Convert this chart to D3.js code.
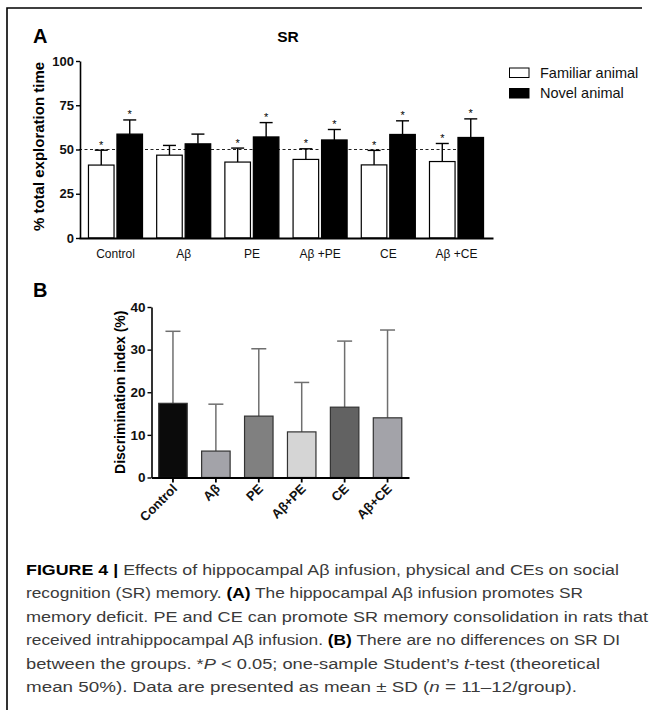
<!DOCTYPE html>
<html lang="en">
<head>
<meta charset="UTF-8">
<title>Figure 4 - SR</title>
<script src="https://d3js.org/d3.v7.min.js"></script>
<style>
    body { margin: 0; background: #fff; }
    svg { font-family: "Liberation Sans", Arial, sans-serif; display: block; }
</style>
</head>
<body>
<script>
// ---- panel A data ----
const groups = ["Control", "Aβ", "PE", "Aβ +PE", "CE", "Aβ +CE"];
const familiarMean = [41.2, 46.8, 42.9, 44.4, 41.3, 43.2];
const familiarSD = [8.4, 5.5, 7.9, 6.0, 8.2, 10.2];
const novelMean = [58.7, 53.2, 57.1, 55.4, 58.5, 56.8];
const novelSD = [8.0, 5.5, 8.1, 5.9, 7.7, 10.5];
const familiarSig = [true, false, true, true, true, true];
const novelSig = [true, false, true, true, true, true];
const yTicksA = [0, 25, 50, 75, 100];
const chanceLevel = 50;

// ---- panel B data ----
const diGroups = ["Control", "Aβ", "PE", "Aβ+PE", "CE", "Aβ+CE"];
const diMean = [17.4, 6.2, 14.4, 10.7, 16.5, 14.0];
const diSD = [16.9, 11.0, 15.8, 11.6, 15.5, 20.6];
const yTicksB = [0, 10, 20, 30, 40];

// bar fills for panel B
const diFill = ["#0b0b0b", "#a3a3a9", "#808080", "#d5d5d5", "#626262", "#a3a3a9"];

const W = 651, H = 710;
const svg = d3.select("body").append("svg")
    .attr("width", W).attr("height", H);

svg.append("rect").attr("width", W).attr("height", H).attr("fill", "#fff");

// frame lines (top + left)
svg.append("path")
    .attr("d", "M7,710 L7,8 L642,8")
    .attr("fill", "none").attr("stroke", "#000").attr("stroke-width", 1.6);

// ================= Panel A =================
const x = d3.scaleBand().domain(groups).range([79, 493])
    .paddingInner(0.19).paddingOuter(0.13);
const xi = d3.scaleBand().domain(["fam", "nov"]).range([0, x.bandwidth()])
    .paddingInner(0.06);
const y = d3.scaleLinear().domain([0, 100]).range([238, 61]);

const gA = svg.append("g");

// dashed 50% line (behind the bars)
gA.append("line")
    .attr("x1", x.range()[0]).attr("x2", x(groups[groups.length - 1]) + x.bandwidth() / 2)
    .attr("y1", y(chanceLevel)).attr("y2", y(chanceLevel))
    .attr("stroke", "#222").attr("stroke-width", 1.1)
    .attr("stroke-dasharray", "3,2.5");

const seriesA = [
    { key: "fam", mean: familiarMean, sd: familiarSD, sig: familiarSig, fill: "#fff" },
    { key: "nov", mean: novelMean, sd: novelSD, sig: novelSig, fill: "#000" }
];

seriesA.forEach(s => {
    groups.forEach((g, i) => {
        const bx = x(g) + xi(s.key);
        const cx = bx + xi.bandwidth() / 2;
        const top = y(s.mean[i] + s.sd[i]);
        // error bar (upper only)
        gA.append("line")
            .attr("x1", cx).attr("x2", cx)
            .attr("y1", y(s.mean[i])).attr("y2", top)
            .attr("stroke", "#000").attr("stroke-width", 1.4);
        gA.append("line")
            .attr("x1", cx - 6.5).attr("x2", cx + 6.5)
            .attr("y1", top).attr("y2", top)
            .attr("stroke", "#000").attr("stroke-width", 1.4);
        gA.append("rect")
            .attr("x", bx + 0.6).attr("y", y(s.mean[i]))
            .attr("width", xi.bandwidth() - 1.2)
            .attr("height", y(0) - y(s.mean[i]))
            .attr("fill", s.fill).attr("stroke", "#000").attr("stroke-width", 1.2);
        if (s.sig[i]) {
            gA.append("text")
                .attr("x", cx).attr("y", top - 1.5)
                .attr("text-anchor", "middle")
                .attr("font-size", 11)
                .text("*");
        }
    });
});

// axes A
const yAxisA = gA.append("g")
    .attr("transform", `translate(${x.range()[0] + 1},0)`)
    .call(d3.axisLeft(y).tickValues(yTicksA).tickSize(4).tickSizeOuter(0).tickPadding(2));
yAxisA.select(".domain").attr("stroke-width", 1.6);
yAxisA.selectAll(".tick line").attr("stroke-width", 1.4);
yAxisA.selectAll(".tick text")
    .attr("font-size", 13).attr("font-weight", "bold")
    .attr("font-family", "Liberation Sans, Arial, sans-serif").attr("fill", "#111");

const xAxisA = gA.append("g")
    .attr("transform", `translate(0,${y(0)})`)
    .call(d3.axisBottom(x).tickSize(0).tickSizeOuter(0).tickPadding(11));
xAxisA.select(".domain").attr("stroke-width", 2.2);
xAxisA.selectAll(".tick text")
    .attr("font-size", 12).attr("fill", "#111")
    .attr("font-family", "Liberation Sans Narrow, Arial Narrow, Liberation Sans, sans-serif");

gA.append("text")
    .attr("transform", `translate(44,${(y(0) + y(100)) / 2 - 3}) rotate(-90)`)
    .attr("text-anchor", "middle")
    .attr("font-size", 15).attr("font-weight", "bold")
    .text("% total exploration time");

gA.append("text").attr("x", 33).attr("y", 43)
    .attr("font-size", 20).attr("font-weight", "bold").text("A");
gA.append("text").attr("x", 288).attr("y", 41.5).attr("text-anchor", "middle")
    .attr("font-size", 15.5).attr("font-weight", "bold").text("SR");

// legend
const legendItems = [["Familiar animal", "#fff"], ["Novel animal", "#000"]];
legendItems.forEach(([label, fill], i) => {
    const ly = 68 + i * 20.5;
    gA.append("rect")
        .attr("x", 509.5).attr("y", ly).attr("width", 19.5).attr("height", 9.5)
        .attr("fill", fill).attr("stroke", "#000").attr("stroke-width", 1);
    gA.append("text")
        .attr("x", 540).attr("y", ly + 9.5)
        .attr("font-size", 14.5).attr("fill", "#111")
        .text(label);
});

// ================= Panel B =================
const xb = d3.scaleBand().domain(diGroups).range([151.5, 409])
    .paddingInner(0.336).paddingOuter(0.168);
const yb = d3.scaleLinear().domain([0, 40]).range([477.5, 307]);

const gB = svg.append("g");

diGroups.forEach((g, i) => {
    const cx = xb(g) + xb.bandwidth() / 2;
    const top = yb(diMean[i] + diSD[i]);
    gB.append("line")
        .attr("x1", cx).attr("x2", cx).attr("y1", yb(diMean[i])).attr("y2", top)
        .attr("stroke", "#6f6f6f").attr("stroke-width", 1.5);
    gB.append("line")
        .attr("x1", cx - 7.5).attr("x2", cx + 7.5).attr("y1", top).attr("y2", top)
        .attr("stroke", "#6f6f6f").attr("stroke-width", 1.5);
    gB.append("rect")
        .attr("x", xb(g)).attr("y", yb(diMean[i]))
        .attr("width", xb.bandwidth()).attr("height", yb(0) - yb(diMean[i]))
        .attr("fill", diFill[i]).attr("stroke", "#333").attr("stroke-width", 1.2);
});

const yAxisB = gB.append("g")
    .attr("transform", `translate(${xb.range()[0]},0)`)
    .call(d3.axisLeft(yb).tickValues(yTicksB).tickSize(4).tickSizeOuter(0).tickPadding(2));
yAxisB.select(".domain").attr("stroke-width", 1.6);
yAxisB.selectAll(".tick line").attr("stroke-width", 1.4);
yAxisB.selectAll(".tick text")
    .attr("font-size", 13.5).attr("font-weight", "bold")
    .attr("font-family", "Liberation Sans, Arial, sans-serif").attr("fill", "#111");

const xAxisB = gB.append("g")
    .attr("transform", `translate(0,${yb(0)})`)
    .call(d3.axisBottom(xb).tickSize(5).tickSizeOuter(0));
xAxisB.select(".domain").attr("stroke-width", 2.2);
xAxisB.selectAll(".tick line").attr("stroke-width", 1.8);
xAxisB.selectAll(".tick text")
    .attr("font-size", 13).attr("font-weight", "bold").attr("fill", "#111")
    .attr("font-family", "Liberation Sans, Arial, sans-serif")
    .attr("text-anchor", "end")
    .attr("dy", null)
    .attr("y", 0)
    .attr("transform", "translate(5,12) rotate(-45)");

gB.append("text")
    .attr("transform", `translate(125,${(yb(0) + yb(40)) / 2}) rotate(-90)`)
    .attr("text-anchor", "middle")
    .attr("font-size", 14).attr("font-weight", "bold")
    .text("Discrimination index (%)");

gB.append("text").attr("x", 33).attr("y", 297)
    .attr("font-size", 20).attr("font-weight", "bold").text("B");

// ================= Caption =================
const captionLines = [
    [["FIGURE 4", "b"], [" | ", "b"], ["Effects of hippocampal Aβ infusion, physical and CEs on social", ""]],
    [["recognition (SR) memory. ", ""], ["(A)", "b"], [" The hippocampal Aβ infusion promotes SR", ""]],
    [["memory deficit. PE and CE can promote SR memory consolidation in rats that", ""]],
    [["received intrahippocampal Aβ infusion. ", ""], ["(B)", "b"], [" There are no differences on SR DI", ""]],
    [["between the groups. *", ""], ["P", "i"], [" < 0.05; one-sample Student’s ", ""], ["t", "i"], ["-test (theoretical", ""]],
    [["mean 50%). Data are presented as mean ± SD (", ""], ["n", "i"], [" = 11–12/group).", ""]]
];
const captionEnds = [619, 583, 648, 620, 600, 577];

const gC = svg.append("g");
captionLines.forEach((parts, i) => {
    const t = gC.append("text")
        .attr("x", 26).attr("y", 575 + i * 23.4)
        .attr("font-size", 15.5).attr("fill", "#3a3a3a")
        .attr("textLength", captionEnds[i] - 26)
        .attr("lengthAdjust", "spacingAndGlyphs");
    parts.forEach(([s, st]) => {
        const ts = t.append("tspan").text(s);
        if (st === "b") ts.attr("font-weight", "bold").attr("fill", "#000");
        if (st === "i") ts.attr("font-style", "italic");
    });
});
</script>
</body>
</html>
